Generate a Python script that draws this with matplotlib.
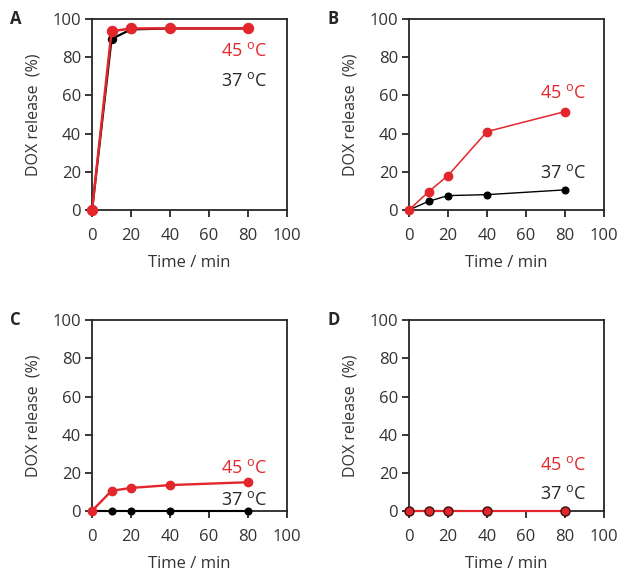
import matplotlib.pyplot as plt

plt.rcParams['font.family'] = ['Open Sans', 'DejaVu Sans']
plt.rcParams['mathtext.fontset'] = 'custom'
plt.rcParams['mathtext.rm'] = 'Open Sans'

# data
time = [0, 10, 20, 40, 80]
a_45 = [0, 93.5, 95, 95, 95]
a_37 = [0, 89.5, 94.5, 95, 95]
b_45 = [0, 9.5, 18, 41, 51.5]
b_37 = [0, 4.5, 7.5, 8, 10.5]
c_45 = [0, 10.5, 12, 13.5, 15]
c_37 = [0, 0, 0, 0, 0]
d_45 = [0, 0, 0, 0, 0]
d_37 = [0, 0, 0, 0, 0]

red = '#e3262b'
dark = '#262626'
lab45 = '45 $^{\\mathrm{o}}$C'
lab37 = '37 $^{\\mathrm{o}}$C'

fig = plt.figure(figsize=(6.22, 5.72), dpi=100)

# letter, axes rect, 37 data, 45 data, text pos 45, text pos 37, line width, marker size
panels = [
    ('A', [0.148, 0.633, 0.3135, 0.334], a_37, a_45, (89.7, 83), (89.7, 67.5), 1.8, 7.2),
    ('B', [0.6576, 0.633, 0.3135, 0.334], b_37, b_45, (90.8, 61), (90.8, 19.3), 1.1, 6),
    ('C', [0.148, 0.107, 0.3135, 0.333], c_37, c_45, (89.7, 22.5), (89.7, 5.6), 1.7, 6),
    ('D', [0.6576, 0.107, 0.3135, 0.333], d_37, d_45, (90.8, 24), (90.8, 9), 1.6, 6.5),
]

for letter, pos, y37, y45, p45, p37, lw, ms in panels:
    ax = fig.add_axes(pos)
    ax.plot(time, y37, '-o', color='black', lw=lw * 0.9, ms=ms * 0.8, zorder=3, clip_on=False)
    if letter == 'D':
        ax.plot(time, y45, '-o', color=red, mec='#3a1010', mew=1.0, lw=lw, ms=ms,
                zorder=4, clip_on=False)
    else:
        ax.plot(time, y45, '-o', color=red, lw=lw, ms=ms, zorder=4, clip_on=False)
    ax.set_xlim(0, 100)
    ax.set_ylim(0, 100)
    ax.set_xticks([0, 20, 40, 60, 80, 100])
    ax.set_yticks([0, 20, 40, 60, 80, 100])
    ax.tick_params(labelsize=12, length=5, width=1.3, color=dark, labelcolor='#333333')
    ax.tick_params(axis='x', pad=8)
    ax.tick_params(axis='y', pad=3)
    for s in ax.spines.values():
        s.set_linewidth(1.3)
        s.set_color(dark)
    ax.set_xlabel('Time / min', fontsize=12, color='#333333')
    ax.set_ylabel('DOX release  (%)', fontsize=11.5, color='#333333')
    ax.xaxis.set_label_coords(0.5, -0.277)
    ax.xaxis.label.set_verticalalignment('center')
    ax.yaxis.set_label_coords(-0.30, 0.5)
    ax.yaxis.label.set_verticalalignment('center')
    ax.text(p45[0], p45[1], lab45, color=red, fontsize=13, ha='right', va='center')
    ax.text(p37[0], p37[1], lab37, color=dark, fontsize=13, ha='right', va='center')
    ax.text(-0.42, 1.0, letter, transform=ax.transAxes, fontsize=12,
            fontweight='bold', color=dark, ha='left', va='center')

fig.savefig('out.png', dpi=100)
